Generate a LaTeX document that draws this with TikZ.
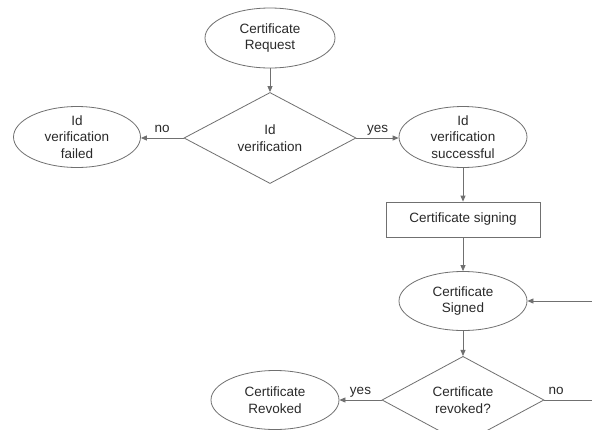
\documentclass[tikz,border=0pt]{standalone}
\usepackage{fontspec}
\setmainfont{Liberation Sans}
\usetikzlibrary{shapes.geometric,arrows.meta}
\definecolor{ln}{HTML}{707070}
\definecolor{txt}{HTML}{2A2A2A}
\begin{document}
\begin{tikzpicture}[x=1pt,y=-1pt,
  every node/.style={font=\fontsize{13.5}{16.6}\selectfont, text=txt},
  ell/.style={ellipse, draw=ln, line width=0.8pt, inner sep=0pt, align=center},
  dia/.style={diamond, draw=ln, line width=0.8pt, inner sep=0pt, align=center},
  box/.style={rectangle, draw=ln, line width=0.8pt, minimum width=154pt, minimum height=35pt},
  arr/.style={draw=ln, line width=0.8pt, -{Triangle[length=6pt,width=5pt]}},
  lbl/.style={anchor=base, yshift=6pt, inner sep=0pt},
  plain/.style={draw=ln, line width=0.8pt}
]
\useasboundingbox (0,0) rectangle (592,429);
\fill[white] (0,0) rectangle (592,429);
\clip (0,0) rectangle (592,429);

\node[ell, minimum width=130pt, minimum height=60pt] (req) at (270,38) {Certificate\\Request};
\node[dia, minimum width=172pt, minimum height=70pt] (idv) at (270,138) {Id\\verification};
\node[ell, minimum width=127pt, minimum height=60pt] (fail) at (77,137) {Id\\verification\\failed};
\node[ell, minimum width=128pt, minimum height=60pt] (succ) at (463,137) {Id\\verification\\successful};
\node[box] (sign) at (463,219.5) {Certificate signing};
\node[ell, minimum width=128pt, minimum height=59pt] (signed) at (463,301) {Certificate\\Signed};
\node[dia, minimum width=162pt, minimum height=68pt] (rev) at (463,400) {Certificate\\revoked?};
\node[ell, minimum width=128pt, minimum height=59pt] (revk) at (275,400) {Certificate\\Revoked};
\coordinate (loopin) at (600,301);
\coordinate (loopout) at (600,400);

\draw[arr] (req) -- (idv);
\draw[arr] (idv.west) -- (idv.west -| fail.east) node[lbl, midway] {no};
\draw[arr] (idv.east) -- (idv.east -| succ.west) node[lbl, midway] {yes};
\draw[arr] (succ) -- (sign);
\draw[arr] (sign) -- (signed);
\draw[arr] (signed) -- (rev);
\draw[arr] (rev.west) -- (revk.east) node[lbl, midway] {yes};
\draw[plain] (rev.east) -- (loopout) node[lbl, pos=0.21] {no};
\draw[arr] (loopin) -- (signed.east);
\end{tikzpicture}
\end{document}
